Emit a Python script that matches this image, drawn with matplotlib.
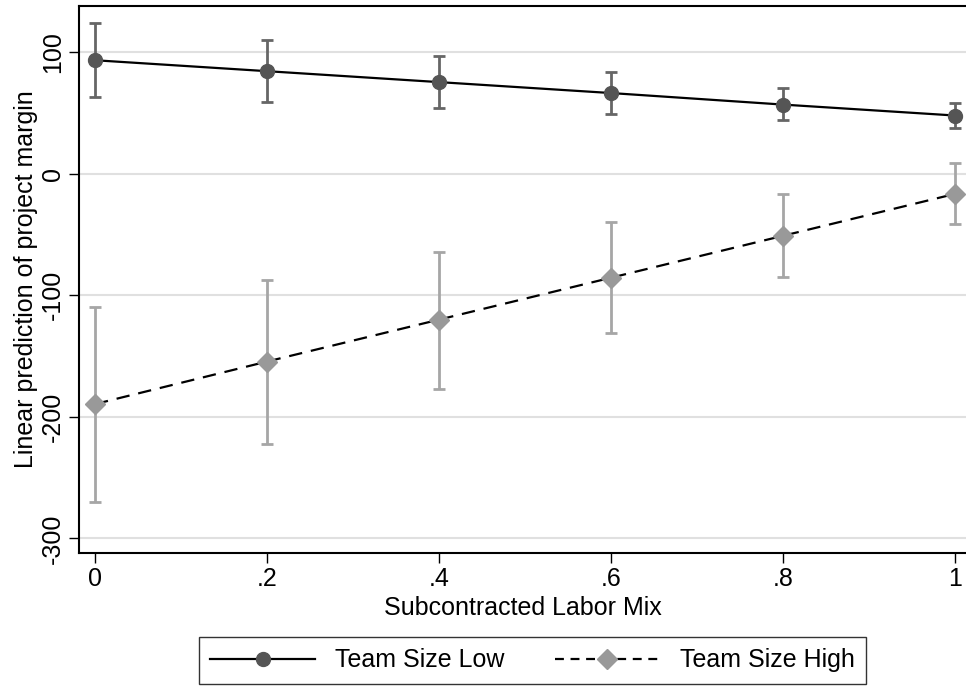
import matplotlib
matplotlib.use("Agg")
import matplotlib.pyplot as plt
import numpy as np

plt.rcParams['font.family'] = ['Liberation Sans', 'DejaVu Sans']

# Data
mix = [0, 0.2, 0.4, 0.6, 0.8, 1.0]
low_pred = [93.5, 84.5, 75.5, 66.5, 57.0, 48.0]
low_hi = [124, 110, 97, 84, 71, 58]
low_lo = [63, 59, 54, 49, 44, 38]
high_pred = [-189.5, -154.5, -120.0, -85.5, -51.0, -16.5]
high_hi = [-110, -87, -64, -40, -17, 9]
high_lo = [-270, -222, -177, -131, -85, -41]

xtick_vals = [0, 0.2, 0.4, 0.6, 0.8, 1.0]
xtick_labels = ["0", ".2", ".4", ".6", ".8", "1"]
ytick_vals = [-300, -200, -100, 0, 100]

fig = plt.figure(figsize=(9.66, 6.86), dpi=100)
ax = fig.add_axes([0.0818, 0.194, 0.9182, 0.797])

low_col = "#555555"
low_err = "#666666"
high_col = "#999999"
high_err = "#a6a6a6"

ax.errorbar(mix, low_pred,
            yerr=[np.subtract(low_pred, low_lo), np.subtract(low_hi, low_pred)],
            fmt="none", ecolor=low_err, elinewidth=2, capsize=4.5, capthick=2, zorder=2)
ax.errorbar(mix, high_pred,
            yerr=[np.subtract(high_pred, high_lo), np.subtract(high_hi, high_pred)],
            fmt="none", ecolor=high_err, elinewidth=2, capsize=4.5, capthick=2, zorder=2)

ax.plot(mix, low_pred, color="black", lw=1.6, zorder=3)
ax.plot(mix, low_pred, "o", color=low_col, ms=10, zorder=4)
ax.plot(mix, high_pred, color="black", lw=1.6, ls=(0, (6, 4)), zorder=3)
ax.plot(mix, high_pred, "D", color=high_col, ms=10, zorder=4)

ax.set_xlim(-0.0186, 1.0128)
ax.set_ylim(-312, 138)
ax.set_xticks(xtick_vals)
ax.set_xticklabels(xtick_labels)
ax.set_yticks(ytick_vals)
ax.set_yticklabels([str(v) for v in ytick_vals], rotation=90, va="center")
ax.tick_params(labelsize=18, length=7, width=1, direction="out", pad=3)
ax.grid(axis="y", color="#e0e0e0", lw=1.5)
ax.set_axisbelow(True)
ax.spines["right"].set_visible(False)
for s in ["left", "bottom", "top"]:
    ax.spines[s].set_linewidth(1.5)

ax.set_xlabel("Subcontracted Labor Mix", fontsize=18, labelpad=4)
ax.set_ylabel("Linear prediction of project margin", fontsize=18, labelpad=2)

h1, = ax.plot([], [], color="black", lw=1.6, marker="o", mfc=low_col, mec=low_col, ms=10)
h2, = ax.plot([], [], color="black", lw=1.6, ls=(0, (4, 3)), marker="D", mfc=high_col, mec=high_col, ms=10)
leg = fig.legend([h1, h2], ["Team Size Low", "Team Size High"], loc="lower center",
                 bbox_to_anchor=(0.551, 0.0), ncol=2, fontsize=18, frameon=True,
                 fancybox=False, edgecolor="black", handlelength=4.2, columnspacing=2.0,
                 handletextpad=0.8, borderpad=0.45, borderaxespad=0.1)
leg.get_frame().set_linewidth(1.0)

fig.savefig("out.png", dpi=100)
